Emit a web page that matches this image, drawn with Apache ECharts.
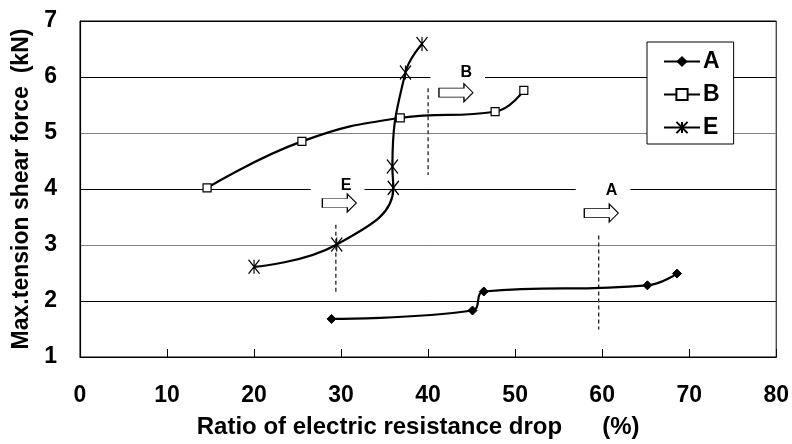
<!DOCTYPE html>
<html>
<head>
<meta charset="utf-8">
<script src="https://cdn.jsdelivr.net/npm/echarts@6/dist/echarts.min.js"></script>
<style>
html,body{margin:0;padding:0;background:#fff;}
#c{width:792px;height:444px;}
</style>
</head>
<body>
<div id="c"></div>
<script>
// ---- data ----
const seriesNames = ['A', 'B', 'E'];
const xTicks = [0, 10, 20, 30, 40, 50, 60, 70, 80];
const yTicks = [1, 2, 3, 4, 5, 6, 7];

const aX = [28.9, 45.1, 46.4, 65.2, 68.6];
const aY = [1.68, 1.83, 2.17, 2.28, 2.49];

const bX = [14.6, 25.5, 36.8, 47.7, 51.0];
const bY = [4.02, 4.85, 5.27, 5.38, 5.76];

const eX = [20.0, 29.5, 36.0, 35.9, 37.4, 39.3];
const eY = [2.61, 3.01, 4.02, 4.40, 6.08, 6.59];

// annotation labels (text, x, y)
const noteText = ['B', 'E', 'A'];
const noteX = [43.4, 29.6, 60.1];
const noteY = [6.07, 4.06, 3.97];

// arrow positions
const arrowX = [43.2, 29.8, 59.9];
const arrowY = [5.72, 3.75, 3.57];

// dashed vertical markers: x, y from, y to
const dashX = [40.0, 29.4, 59.6];
const dashY1 = [5.80, 3.36, 3.17];
const dashY2 = [4.25, 2.11, 1.49];

// ---- build ----
const zip = (xs, ys) => xs.map((x, i) => [x, ys[i]]);
const FONT = "'Liberation Sans', Arial, sans-serif";

const asterisk = 'path://M0,0L10,13M10,0L0,13M5,0L5,13';
const arrowPath = 'path://M0,4.5L25,4.5L25,0L34,9L25,18L25,13.5L0,13.5Z';

const lineBase = {
  type: 'line',
  smooth: 0.45,
  lineStyle: { color: '#000', width: 2.2 },
  z: 5
};

const series = [
  Object.assign({}, lineBase, {
    name: 'A', data: zip(aX, aY),
    symbol: 'diamond', symbolSize: 9,
    itemStyle: { color: '#000', borderColor: '#000' }
  }),
  Object.assign({}, lineBase, {
    name: 'B', data: zip(bX, bY),
    symbol: 'rect', symbolSize: 8,
    itemStyle: { color: '#fff', borderColor: '#000', borderWidth: 1.2 }
  }),
  Object.assign({}, lineBase, {
    name: 'E', data: zip(eX, eY),
    symbol: asterisk, symbolSize: [11, 14],
    itemStyle: { color: 'none', borderColor: '#000', borderWidth: 1.3 }
  })
];

dashX.forEach((x, i) => {
  series.push({
    type: 'line', name: 'dash' + i,
    data: [[x, dashY1[i]], [x, dashY2[i]]],
    symbol: 'none', silent: true, z: 3,
    lineStyle: { color: '#222', width: 1.3, type: [4, 3] }
  });
});

series.push({
  type: 'scatter', name: 'arrows',
  data: zip(arrowX, arrowY),
  symbol: arrowPath, symbolSize: [34, 18], silent: true, z: 6,
  itemStyle: { color: '#fff', borderColor: '#000', borderWidth: 1, opacity: 1 }
});

series.push({
  type: 'scatter', name: 'notes',
  data: noteText.map((t, i) => ({ name: t, value: [noteX[i], noteY[i]] })),
  symbolSize: 1, silent: true, z: 4,
  itemStyle: { color: 'rgba(0,0,0,0)', opacity: 1 },
  label: {
    show: true, position: 'inside', formatter: '{b}',
    fontFamily: FONT, fontWeight: 'bold', fontSize: 16, color: '#000',
    backgroundColor: '#fff', padding: [3, 13, 3, 30]
  }
});

const chart = echarts.init(document.getElementById('c'), null, { renderer: 'canvas' });
chart.setOption({
  animation: false,
  backgroundColor: '#fff',
  textStyle: { fontFamily: FONT },
  grid: {
    left: 80, right: 13.5, top: 21, bottom: 86.7,
    show: true, borderColor: '#000', borderWidth: 1, backgroundColor: '#fff'
  },
  legend: {
    data: seriesNames,
    orient: 'vertical',
    left: 647, top: 42,
    padding: [8, 14, 5, 16],
    itemGap: 10, itemWidth: 36, itemHeight: 14,
    backgroundColor: '#fff', borderColor: '#000', borderWidth: 1,
    textStyle: { fontFamily: FONT, fontSize: 23, fontWeight: 'bold', color: '#000', padding: [0, 0, 0, -2] }
  },
  xAxis: {
    type: 'value', min: xTicks[0], max: xTicks[xTicks.length - 1], interval: 10,
    name: 'Ratio of electric resistance drop      (%)',
    nameLocation: 'middle', nameGap: 58,
    nameTextStyle: { fontFamily: FONT, fontSize: 24, fontWeight: 'bold', color: '#000', padding: [0, 20, 0, 0] },
    axisLine: { lineStyle: { color: '#000', width: 1.2 } },
    axisTick: { show: true, inside: true, length: 8, lineStyle: { color: '#000' } },
    axisLabel: { fontFamily: FONT, fontSize: 23, fontWeight: 'bold', color: '#000', margin: 27 },
    splitLine: { show: false }
  },
  yAxis: {
    type: 'value', min: yTicks[0], max: yTicks[yTicks.length - 1], interval: 1,
    name: 'Max.tension shear force  (kN)',
    nameLocation: 'middle', nameGap: 47,
    nameTextStyle: { fontFamily: FONT, fontSize: 23, fontWeight: 'bold', color: '#000' },
    axisLine: { show: true, lineStyle: { color: '#000', width: 1.2 } },
    axisTick: { show: false },
    axisLabel: { fontFamily: FONT, fontSize: 23, fontWeight: 'bold', color: '#000', margin: 23 },
    splitLine: {
      show: true,
      lineStyle: { color: ['#000', '#000', '#808080', '#000', '#808080', '#000', '#000'], width: 1 }
    }
  },
  series: series
});
</script>
</body>
</html>
